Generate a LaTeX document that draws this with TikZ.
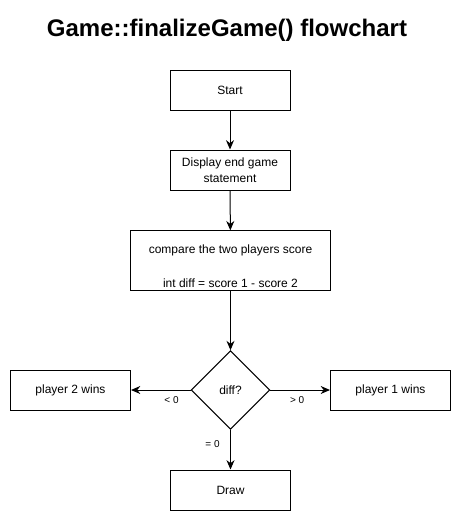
\documentclass[tikz,border=0pt]{standalone}
\usepackage{fontspec}
\setmainfont{Liberation Sans}
\usetikzlibrary{shapes.geometric,arrows.meta}

\begin{document}
\begin{tikzpicture}[x=0.75pt,y=0.75pt,yscale=-1,xscale=1,
	box/.style={draw,line width=0.75,minimum width=90pt,minimum height=30pt,inner sep=0.75pt,align=center,font=\fontsize{9}{12}\selectfont},
	decision/.style={draw,diamond,aspect=1,line width=0.75,minimum width=59pt,minimum height=59pt,inner sep=0pt,font=\fontsize{9}{12}\selectfont},
	flow/.style={-{Stealth[length=7pt,width=6pt]},line width=0.75},
	lbl/.style={inner sep=0.75pt,font=\fontsize{7.5}{9}\selectfont}]
	\useasboundingbox (0,0) rectangle (461,521);

	\draw (227,30) node [font=\fontsize{18}{22}\bfseries] (title) {Game::finalizeGame() flowchart};

	\draw (230,90) node [box] (start) {Start};
	\draw (230,170) node [box] (display) {Display end game\\ statement};
	\draw (230.5,260.5) node [box,minimum width=150pt,minimum height=44.5pt] (compare) {\rule{0pt}{15pt}compare the two players score\\[14pt]int diff = score 1 - score 2};
	\draw (230.5,390) node [decision] (diff) {diff?};
	\draw (70.5,390) node [box] (p2) {player 2 wins};
	\draw (390.5,390) node [box] (p1) {player 1 wins};
	\draw (230.5,490) node [box] (draw) {Draw};

	\draw [flow] (start) -- (display);
	\draw [flow] (display) -- (compare);
	\draw [flow] (compare) -- (diff);
	\draw [flow] (diff) -- (p2) node [lbl,pos=0.32,below=4pt] {< 0};
	\draw [flow] (diff) -- (p1) node [lbl,pos=0.45,below=4pt] {> 0};
	\draw [flow] (diff) -- (draw) node [lbl,pos=0.35,left=7pt] {= 0};
\end{tikzpicture}
\end{document}
